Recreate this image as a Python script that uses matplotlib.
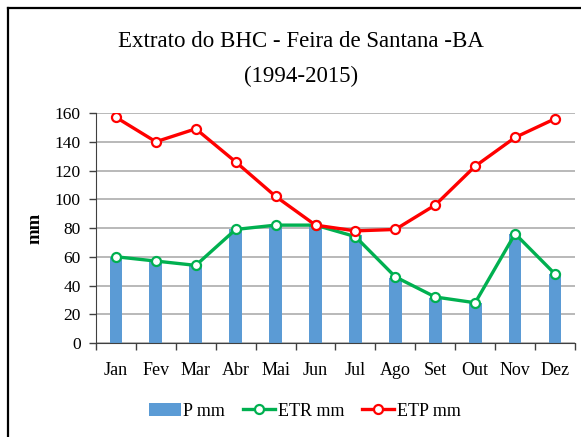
import matplotlib
matplotlib.use('Agg')
import matplotlib.pyplot as plt
import numpy as np
from matplotlib.lines import Line2D

meses = ['Jan', 'Fev', 'Mar', 'Abr', 'Mai', 'Jun', 'Jul', 'Ago', 'Set', 'Out', 'Nov', 'Dez']
p_mm = [60, 57, 54, 79, 82, 82, 75, 45, 31, 28, 76, 48]
etr_mm = [60, 57, 54, 79, 82, 82, 74, 46, 32, 28, 76, 48]
etp_mm = [157, 140, 149, 126, 102, 82, 78, 79, 96, 123, 143, 156]

plt.rcParams['font.family'] = ['Liberation Serif', 'DejaVu Serif']

fig = plt.figure(figsize=(5.81, 4.37), dpi=100)
ax = fig.add_axes([0.1652, 0.2151, 0.8244, 0.5263])

x = np.arange(len(meses))
barras = ax.bar(x, p_mm, width=0.32, color='#5B9BD5', label='P mm', zorder=2)
l_etr, = ax.plot(x, etr_mm, color='#00B050', lw=2.4, marker='o', ms=6.5, mfc='white',
                 mec='#00B050', mew=1.6, label='ETR mm', zorder=3)
l_etp, = ax.plot(x, etp_mm, color='#FF0000', lw=2.4, marker='o', ms=6.5, mfc='white',
                 mec='#FF0000', mew=1.6, label='ETP mm', zorder=4)

ax.set_xlim(-0.5, 11.5)
ax.set_ylim(0, 160)
ax.set_yticks(range(0, 161, 20))
ax.set_xticks(x)
ax.set_xticklabels(meses)
ax.set_xticks(np.arange(-0.5, 12, 1), minor=True)
ax.tick_params(axis='x', which='major', length=0, pad=14, labelsize=13)
ax.tick_params(axis='x', which='minor', length=5, width=1, color='#404040')
ax.tick_params(axis='y', length=5, width=1, color='#404040', labelsize=12.5, pad=6)
ax.grid(axis='y', color='#A6A6A6', lw=1.1, zorder=0)
ax.set_axisbelow(True)
for s in ['top', 'right']:
    ax.spines[s].set_visible(False)
ax.spines['left'].set_color('#404040')
ax.spines['bottom'].set_color('#404040')
ax.set_ylabel('mm', fontsize=13.5, fontweight='bold', labelpad=8)

fig.text(0.518, 0.904, 'Extrato do BHC - Feira de Santana -BA', ha='center', va='center', fontsize=16.5)
fig.text(0.518, 0.826, '(1994-2015)', ha='center', va='center', fontsize=16.5)

ax.legend([barras, l_etr, l_etp], ['P mm', 'ETR mm', 'ETP mm'],
          loc='center', bbox_to_anchor=(0.436, -0.296), ncol=3, frameon=False,
          fontsize=13, handlelength=1.75, handletextpad=0.15, columnspacing=1.0)

# moldura (borda esquerda e superior)
fig.add_artist(Line2D([7.5 / 581, 7.5 / 581], [0, 1 - 7.5 / 437], color='black', lw=1.6,
                      transform=fig.transFigure))
fig.add_artist(Line2D([7.5 / 581, 1], [1 - 7.5 / 437, 1 - 7.5 / 437], color='black', lw=1.6,
                      transform=fig.transFigure))

fig.savefig('out.png', dpi=100)
